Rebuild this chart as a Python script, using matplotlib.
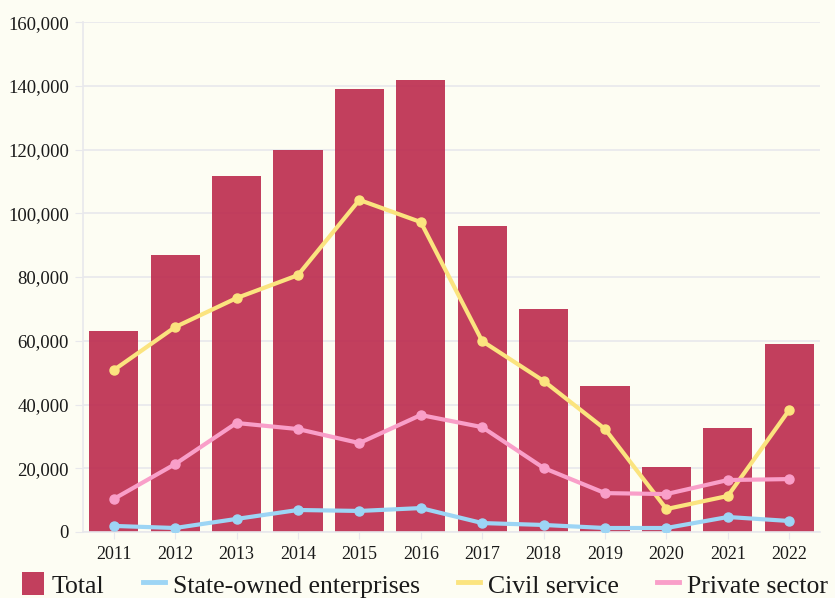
import matplotlib.pyplot as plt
from matplotlib.patches import Patch
from matplotlib.lines import Line2D
from matplotlib.ticker import FuncFormatter

years = ['2011', '2012', '2013', '2014', '2015', '2016', '2017', '2018', '2019', '2020', '2021', '2022']
total = [63000, 87000, 111800, 119800, 139000, 141800, 96000, 70000, 45800, 20400, 32600, 59000]
state_owned = [1900, 1250, 4100, 6900, 6600, 7500, 2800, 2200, 1250, 1250, 4700, 3450]
civil_service = [50800, 64300, 73400, 80600, 104200, 97250, 59900, 47400, 32300, 7200, 11300, 38300]
private_sector = [10350, 21300, 34200, 32300, 27900, 36700, 32900, 20100, 12200, 11900, 16300, 16600]

bg = '#fdfdf3'
c_total = '#bc2a4d'
c_soe = '#9dd5f5'
c_civil = '#fbe47f'
c_private = '#f99fc9'
grid_c = '#e8e8ec'

plt.rcParams['font.family'] = ['Liberation Serif', 'DejaVu Serif']

fig = plt.figure(figsize=(8.35, 5.98), dpi=100, facecolor=bg)
ax = fig.add_axes([0.0994, 0.1104, 0.8826, 0.8526], facecolor=bg)

x = list(range(len(years)))
ax.bar(x, total, width=0.8, color=c_total, alpha=0.9, zorder=2)
ax.plot(x, state_owned, color=c_soe, lw=3, marker='o', ms=6.5, zorder=3)
ax.plot(x, civil_service, color=c_civil, lw=3, marker='o', ms=6.5, zorder=3)
ax.plot(x, private_sector, color=c_private, lw=3, marker='o', ms=6.5, zorder=3)

ax.set_xlim(-0.5, len(years) - 0.5)
ax.set_ylim(0, 160000)
ax.set_yticks(range(0, 160001, 20000))
ax.yaxis.set_major_formatter(FuncFormatter(lambda v, p: f'{int(v):,}'))
ax.set_xticks(x)
ax.set_xticklabels(years)

ax.grid(axis='y', color=grid_c, lw=1.2, zorder=0)
for s in ['top', 'right']:
    ax.spines[s].set_visible(False)
ax.spines['left'].set_color(grid_c)
ax.spines['left'].set_linewidth(1.2)
ax.spines['bottom'].set_color(grid_c)
ax.spines['bottom'].set_linewidth(1.2)
ax.tick_params(axis='y', length=6, color=grid_c, labelsize=13.5, pad=4, labelcolor='#1a1a1a')
ax.tick_params(axis='x', length=5, color=grid_c, labelsize=13, pad=5, labelcolor='#1a1a1a')

handles = [
    Patch(facecolor=c_total, alpha=0.9),
    Line2D([0], [0], color=c_soe, lw=3.5),
    Line2D([0], [0], color=c_civil, lw=3.5),
    Line2D([0], [0], color=c_private, lw=3.5),
]
labels = ['Total', 'State-owned enterprises', 'Civil service', 'Private sector']
fig.legend(handles, labels, loc='lower left', bbox_to_anchor=(-0.001, -0.038), ncol=4,
           frameon=False, fontsize=18.5, handlelength=0.85, handleheight=1.0,
           handletextpad=0.3, columnspacing=1.5, labelcolor='#1a1a1a')

fig.savefig('out.png', dpi=100, facecolor=bg)
